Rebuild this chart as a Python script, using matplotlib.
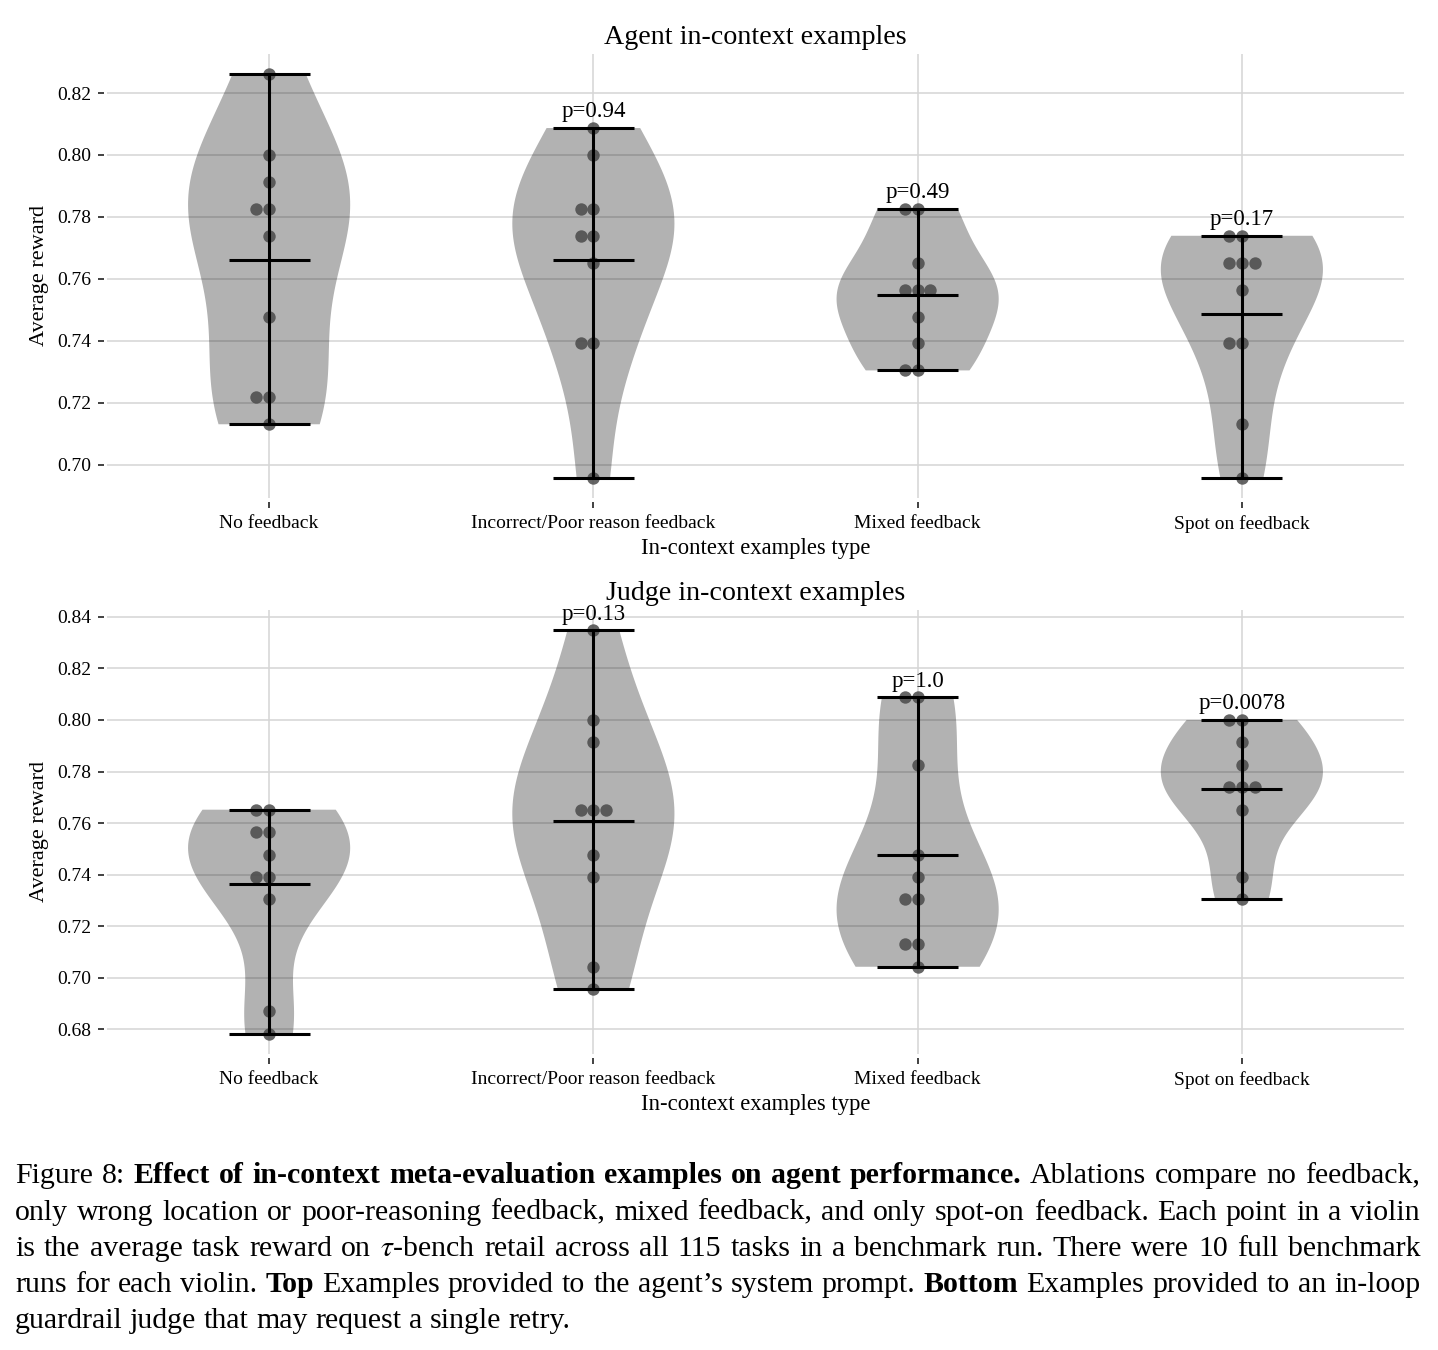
import numpy as np
import matplotlib
matplotlib.use("Agg")
import matplotlib.pyplot as plt

plt.rcParams['font.family'] = ['Liberation Serif', 'DejaVu Serif']
plt.rcParams['mathtext.fontset'] = 'stix'

# ---------------- data ----------------
categories = ["No feedback", "Incorrect/Poor reason feedback", "Mixed feedback", "Spot on feedback"]

agent_no_feedback = [0.8261, 0.8000, 0.7913, 0.7826, 0.7826, 0.7739, 0.7478, 0.7217, 0.7217, 0.7130]
agent_incorrect = [0.8087, 0.8000, 0.7826, 0.7826, 0.7739, 0.7739, 0.7652, 0.7391, 0.7391, 0.6957]
agent_mixed = [0.7826, 0.7826, 0.7652, 0.7565, 0.7565, 0.7565, 0.7478, 0.7391, 0.7304, 0.7304]
agent_spot_on = [0.7739, 0.7739, 0.7652, 0.7652, 0.7652, 0.7565, 0.7391, 0.7391, 0.7130, 0.6957]
agent_pvalues = [None, "0.94", "0.49", "0.17"]

judge_no_feedback = [0.7652, 0.7652, 0.7565, 0.7565, 0.7478, 0.7391, 0.7391, 0.7304, 0.6870, 0.6783]
judge_incorrect = [0.8348, 0.8000, 0.7913, 0.7652, 0.7652, 0.7652, 0.7478, 0.7391, 0.7043, 0.6957]
judge_mixed = [0.8087, 0.8087, 0.7826, 0.7478, 0.7391, 0.7304, 0.7304, 0.7130, 0.7130, 0.7043]
judge_spot_on = [0.8000, 0.8000, 0.7913, 0.7826, 0.7739, 0.7739, 0.7739, 0.7652, 0.7391, 0.7304]
judge_pvalues = [None, "0.13", "1.0", "0.0078"]

titles = ["Agent in-context examples", "Judge in-context examples"]
xlabel = "In-context examples type"
ylabel = "Average reward"

caption_lines = [
    [("Figure 8: ", "normal"),
     ("Effect of in-context meta-evaluation examples on agent performance.", "bold"),
     (" Ablations compare no feedback,", "normal")],
    [("only wrong location or poor-reasoning feedback, mixed feedback, and only spot-on feedback. Each point in a violin", "normal")],
    [("is the average task reward on $\\tau$-bench retail across all 115 tasks in a benchmark run. There were 10 full benchmark", "normal")],
    [("runs for each violin. ", "normal"), ("Top", "bold"),
     (" Examples provided to the agent\u2019s system prompt. ", "normal"), ("Bottom", "bold"),
     (" Examples provided to an in-loop", "normal")],
    [("guardrail judge that may request a single retry.", "normal")],
]

# ---------------- figure ----------------
W, H = 1438, 1350
fig = plt.figure(figsize=(W / 100, H / 100), dpi=100)

def px_rect(left, top, right, bottom):
    return [left / W, 1 - bottom / H, (right - left) / W, (bottom - top) / H]

ax_top = fig.add_axes(px_rect(107, 54, 1404, 498))
ax_bot = fig.add_axes(px_rect(107, 610, 1404, 1054))

positions = np.arange(1, len(categories) + 1)
step = 0.039  # horizontal spacing of repeated points

def draw_panel(ax, groups, pvals, title):
    ax.set_axisbelow(True)
    ax.grid(True, color='#d5d5d5', linewidth=1.1)
    parts = ax.violinplot(groups, positions=positions, widths=0.5,
                          showmeans=True, showextrema=True)
    for b in parts['bodies']:
        b.set_facecolor('black')
        b.set_alpha(0.3)
        b.set_edgecolor('none')
        b.set_linewidth(0)
    for key in ['cbars', 'cmins', 'cmaxes', 'cmeans']:
        parts[key].set_color('black')
        parts[key].set_linewidth(2.2)
        parts[key].set_zorder(3)
    for pos, vals in zip(positions, groups):
        seen = {}
        xs = []
        for v in vals:
            k = seen.get(v, 0)
            seen[v] = k + 1
            off = [0, -1, 1, -2, 2][k] * step
            xs.append(pos + off)
        ax.scatter(xs, vals, s=80, color='#4a4a4a', alpha=0.85, linewidths=0, zorder=2.5)
        p = pvals[pos - 1]
        if p is not None:
            ax.annotate(f"p={p}", (pos, max(vals)), xytext=(0, 4), textcoords='offset points',
                        ha='center', va='bottom', fontsize=16.5, zorder=4)
    ax.set_xlim(0.5, 4.5)
    ax.set_xticks(positions)
    ax.set_xticklabels(categories)
    ax.yaxis.set_major_formatter(matplotlib.ticker.FormatStrFormatter('%.2f'))
    ax.tick_params(axis='both', direction='out', length=4, width=1.3, color='#333333',
                   pad=5, labelsize=14, labelcolor='black')
    for s in ax.spines.values():
        s.set_visible(False)
    ax.spines['left'].set_position(('outward', 2))
    ax.spines['bottom'].set_position(('outward', 3))
    ax.set_xlabel(xlabel, fontsize=16.3, labelpad=4)
    ax.set_ylabel(ylabel, fontsize=16, labelpad=6)
    ax.set_title(title, fontsize=20.2, pad=7.5)

draw_panel(ax_top, [agent_no_feedback, agent_incorrect, agent_mixed, agent_spot_on],
           agent_pvalues, titles[0])
draw_panel(ax_bot, [judge_no_feedback, judge_incorrect, judge_mixed, judge_spot_on],
           judge_pvalues, titles[1])

# ---------------- caption (justified) ----------------
renderer = fig.canvas.get_renderer()
cap_size = 21.5
x_left, x_right = 15, 1420
baselines = [1183, 1219.5, 1255.5, 1292, 1328]

def width_of(t):
    return t.get_window_extent(renderer).width

probe_a = fig.text(0, 0, "ab", fontsize=cap_size)
probe_b = fig.text(0, 0, "a b", fontsize=cap_size)
space_w = width_of(probe_b) - width_of(probe_a)
probe_a.remove(); probe_b.remove()

for li, segs in enumerate(caption_lines):
    words = []
    for text, weight in segs:
        for w in text.split(" "):
            if w:
                words.append((w, weight))
    texts = [fig.text(0, 1 - baselines[li] / H, w, fontsize=cap_size, fontweight=wt,
                      va='baseline', ha='left') for w, wt in words]
    widths = [width_of(t) for t in texts]
    if li < len(caption_lines) - 1 and len(texts) > 1:
        gap = (x_right - x_left - sum(widths)) / (len(texts) - 1)
    else:
        gap = space_w
    x = x_left
    for t, w in zip(texts, widths):
        t.set_x(x / W)
        x += w + gap

fig.savefig("out.png", dpi=100)
